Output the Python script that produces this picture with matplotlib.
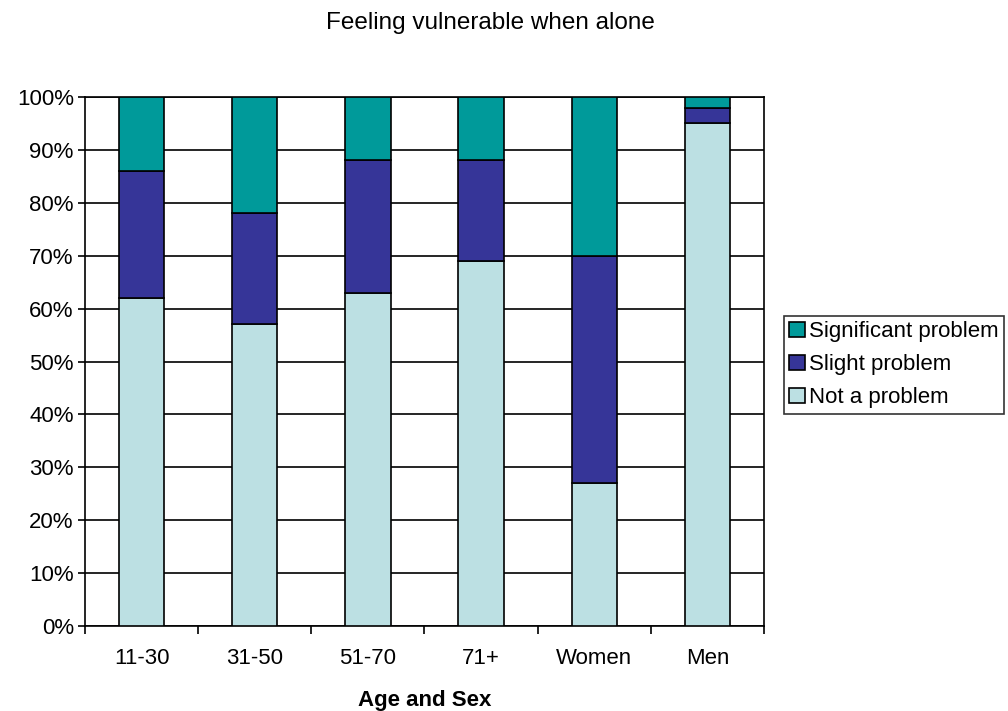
import matplotlib.pyplot as plt
import numpy as np
from matplotlib.ticker import PercentFormatter

plt.rcParams['font.family'] = ['Liberation Sans', 'DejaVu Sans']

groups = ['11-30', '31-50', '51-70', '71+', 'Women', 'Men']
not_problem = [62, 57, 63, 69, 27, 95]
slight = [24, 21, 25, 19, 43, 3]
significant = [14, 22, 12, 12, 30, 2]

fig = plt.figure(figsize=(10.08, 7.11), dpi=100)
ax = fig.add_axes([0.0843, 0.1195, 0.6736, 0.7441])

x = np.arange(len(groups))
w = 0.40
bottom2 = np.array(not_problem)
bottom3 = bottom2 + np.array(slight)
ax.bar(x, not_problem, w, color='#bce0e3', edgecolor='black', linewidth=1.2,
       label='Not a problem', zorder=3)
ax.bar(x, slight, w, bottom=bottom2, color='#363598', edgecolor='black',
       linewidth=1.2, label='Slight problem', zorder=3)
ax.bar(x, significant, w, bottom=bottom3, color='#009a9a', edgecolor='black',
       linewidth=1.2, label='Significant problem', zorder=3)

ax.set_xlim(-0.5, len(groups) - 0.5)
ax.set_ylim(0, 100)
ax.set_yticks(range(0, 101, 10))
ax.yaxis.set_major_formatter(PercentFormatter(decimals=0))
ax.yaxis.grid(True, color='black', linewidth=1.2, zorder=0)

# category labels in the middle, tick marks between categories
ax.set_xticks(x)
ax.set_xticklabels(groups)
ax.tick_params(axis='x', which='major', length=0, pad=16, labelsize=16)
ax.set_xticks(np.arange(-0.5, len(groups)), minor=True)
ax.tick_params(axis='x', which='minor', length=6, width=1.2, direction='out')
ax.tick_params(axis='y', length=5, width=1.2, labelsize=16, pad=3)

for s in ax.spines.values():
    s.set_linewidth(1.2)
    s.set_color('black')

ax.set_xlabel('Age and Sex', fontsize=16, fontweight='bold', labelpad=15)
fig.text(0.487, 0.967, 'Feeling vulnerable when alone', ha='center', va='center',
         fontsize=17.5)

handles, labels = ax.get_legend_handles_labels()
leg = ax.legend(handles[::-1], labels[::-1], loc='center left',
                bbox_to_anchor=(1.029, 0.494), fontsize=16, frameon=True,
                fancybox=False, edgecolor='black', handlelength=0.7,
                handleheight=0.7, handletextpad=0.2, borderpad=0.25,
                labelspacing=0.54, borderaxespad=0)
leg.get_frame().set_linewidth(1.2)

fig.savefig('out.png', dpi=100)
